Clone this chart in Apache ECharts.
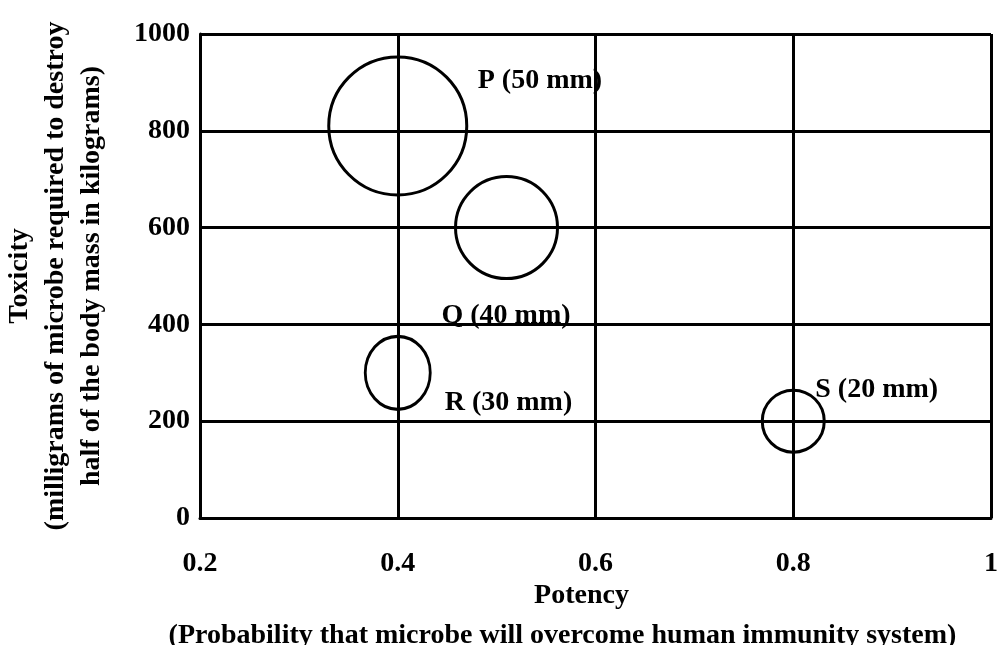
<!DOCTYPE html>
<html>
<head>
<meta charset="utf-8">
<title>Potency vs Toxicity</title>
<script src="https://cdn.jsdelivr.net/npm/echarts@6/dist/echarts.min.js"></script>
<style>
  html, body { margin: 0; padding: 0; background: #fff; }
  #main { width: 1000px; height: 645px; }
</style>
</head>
<body>
<div id="main"></div>
<script>
// microbes
const names = ['P', 'Q', 'R', 'S'];
const potency = [0.4, 0.51, 0.4, 0.8];
const toxicity = [810, 600, 300, 200];
const sizeMm = [50, 40, 30, 20];

// drawn size of each bubble (px) and where its label sits from the centre
const bubblePx = [[138, 138], [102, 102], [65, 73], [62, 62]];
const labelShift = [[80, -45], [-65, 88], [47, 30], [22, -31]];

const font = 'Liberation Serif, Times New Roman, serif';

let seriesData = names.map((n, i) => {
  return {
    name: n,
    value: [potency[i], toxicity[i], sizeMm[i]],
    symbolSize: bubblePx[i],
    label: { offset: labelShift[i] }
  }
});

var myChart = echarts.init(document.getElementById('main'));

let option = {
  backgroundColor: '#fff',
  animation: false,
  grid: { left: 200, right: 9, top: 34, bottom: 127, containLabel: false, outerBoundsMode: 'none' },
  xAxis: {
    type: 'value',
    min: 0.2,
    max: 1,
    interval: 0.2,
    name: '{a|Potency}\n(Probability that microbe will overcome human immunity system)',
    nameLocation: 'middle',
    nameGap: 58,
    nameMoveOverlap: false,
    nameTextStyle: {
      fontFamily: font, fontWeight: 'bold', fontSize: 28, color: '#000',
      lineHeight: 40, padding: [0, 66, 0, 0],
      rich: { a: { fontFamily: font, fontWeight: 'bold', fontSize: 28, color: '#000', lineHeight: 40, padding: [0, 0, 0, 38] } }
    },
    axisLine: { lineStyle: { color: '#000', width: 3 } },
    axisTick: { show: false },
    axisLabel: { fontFamily: font, fontWeight: 'bold', fontSize: 28, color: '#000', margin: 32 },
    splitLine: { show: true, lineStyle: { color: '#000', width: 3 } }
  },
  yAxis: {
    type: 'value',
    min: 0,
    max: 1000,
    interval: 200,
    name: 'Toxicity\n(milligrams of microbe required to destroy\nhalf of the body mass in kilograms)',
    nameLocation: 'middle',
    nameGap: 90,
    nameMoveOverlap: false,
    nameTextStyle: { fontFamily: font, fontWeight: 'bold', fontSize: 28, color: '#000', lineHeight: 36 },
    axisLine: { show: true, lineStyle: { color: '#000', width: 3 } },
    axisTick: { show: false },
    axisLabel: {
      fontFamily: font, fontWeight: 'bold', fontSize: 28, color: '#000', margin: 10,
      formatter: function (v) { return String(v); }
    },
    splitLine: { show: true, lineStyle: { color: '#000', width: 3 } }
  },
  series: [
    {
      type: 'scatter',
      symbol: 'circle',
      data: seriesData,
      itemStyle: { color: 'rgba(0,0,0,0)', borderColor: '#000', borderWidth: 3, opacity: 1 },
      label: {
        show: true,
        position: 'inside',
        align: 'left',
        verticalAlign: 'middle',
        fontFamily: font,
        fontWeight: 'bold',
        fontSize: 28,
        color: '#000',
        formatter: function (p) {
          return p.name + ' (' + p.value[2] + ' mm)';
        }
      },
      emphasis: { disabled: true }
    }
  ]
};

myChart.setOption(option);
</script>
</body>
</html>
